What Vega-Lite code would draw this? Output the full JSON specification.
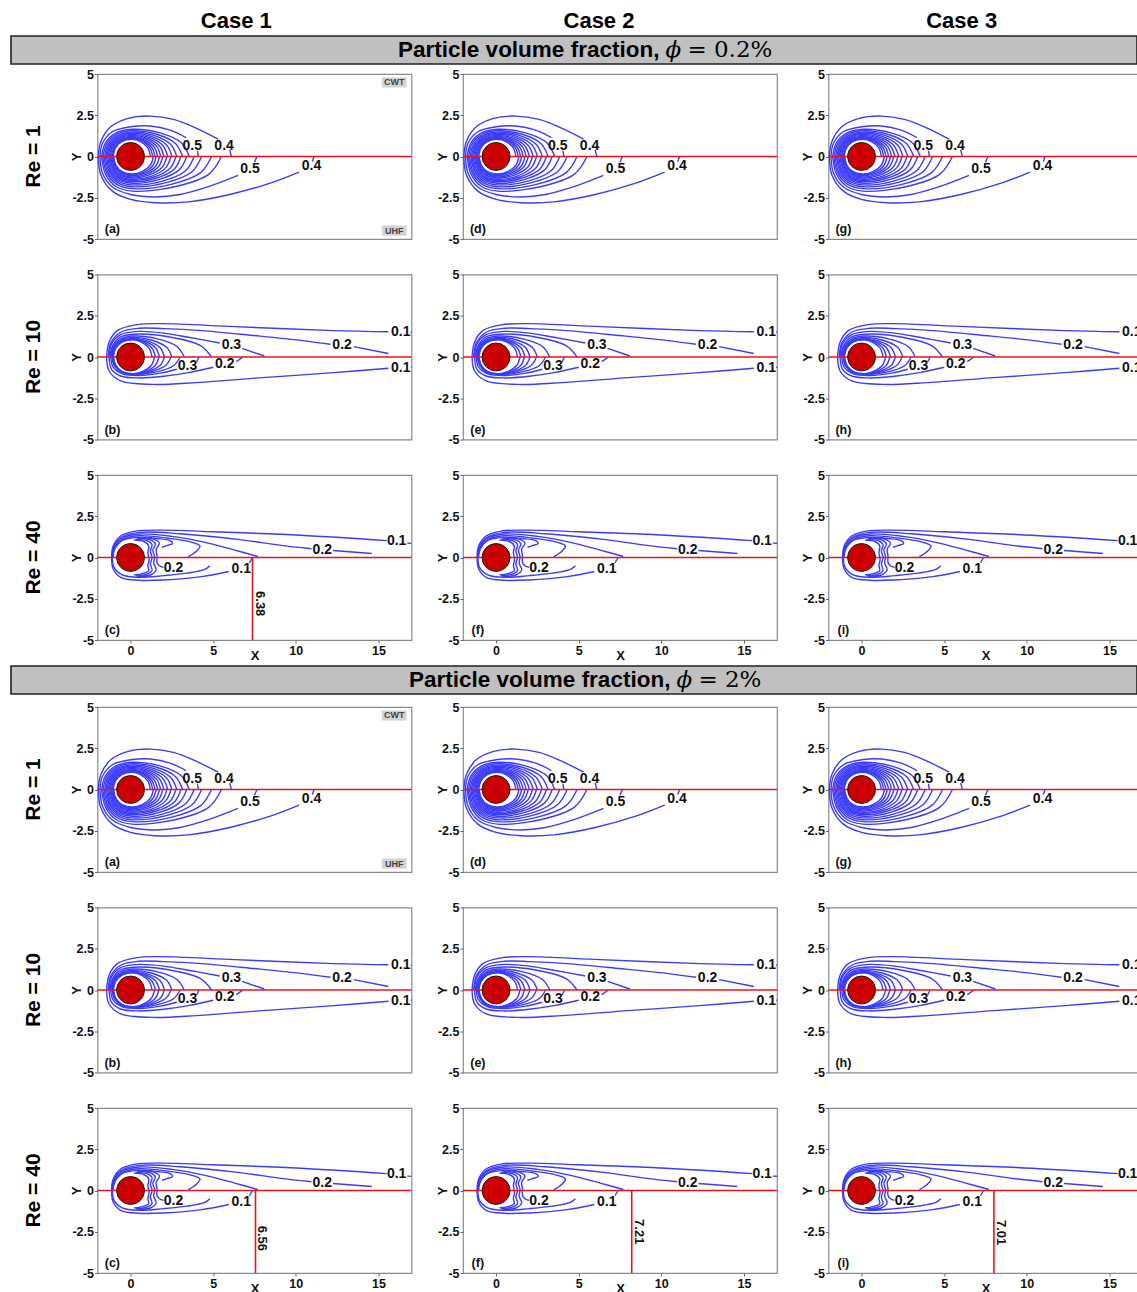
{
"$schema":"https://vega.github.io/schema/vega-lite/v6.json",
"background":"white",
"padding":{"left":10,"top":9,"right":0,"bottom":0},
"spacing":2,
"datasets":{
"c1":[
{"c":"u1a","x":-1.95,"y":0},{"c":"u1a","x":-1.8,"y":0.9},{"c":"u1a","x":-1.2,"y":1.8},{"c":"u1a","x":-0.2,"y":2.3},{"c":"u1a","x":1.2,"y":2.45},{"c":"u1a","x":2.6,"y":2.25},{"c":"u1a","x":3.9,"y":1.75},{"c":"u1a","x":5.3,"y":1.05},
{"c":"u1b","x":6.0,"y":0.4},{"c":"u1b","x":6.1,"y":0},
{"c":"u2a","x":-1.85,"y":0},{"c":"u2a","x":-1.7,"y":0.8},{"c":"u2a","x":-1.1,"y":1.5},{"c":"u2a","x":0,"y":1.8},{"c":"u2a","x":1.2,"y":1.85},{"c":"u2a","x":2.4,"y":1.6},{"c":"u2a","x":3.35,"y":1.15},
{"c":"u2b","x":4.05,"y":0.35},{"c":"u2b","x":4.1,"y":0},
{"c":"u3","x":-1.75,"y":0},{"c":"u3","x":-1.52,"y":0.83},{"c":"u3","x":-0.88,"y":1.43},{"c":"u3","x":0.1,"y":1.65},{"c":"u3","x":1.78,"y":1.43},{"c":"u3","x":3.07,"y":0.83},{"c":"u3","x":3.55,"y":0},
{"c":"u4","x":-1.66,"y":0},{"c":"u4","x":-1.44,"y":0.78},{"c":"u4","x":-0.83,"y":1.35},{"c":"u4","x":0.1,"y":1.56},{"c":"u4","x":1.58,"y":1.35},{"c":"u4","x":2.73,"y":0.78},{"c":"u4","x":3.15,"y":0},
{"c":"u5","x":-1.57,"y":0},{"c":"u5","x":-1.36,"y":0.74},{"c":"u5","x":-0.79,"y":1.28},{"c":"u5","x":0.1,"y":1.48},{"c":"u5","x":1.4,"y":1.28},{"c":"u5","x":2.42,"y":0.74},{"c":"u5","x":2.8,"y":0},
{"c":"u6","x":-1.49,"y":0},{"c":"u6","x":-1.29,"y":0.71},{"c":"u6","x":-0.75,"y":1.22},{"c":"u6","x":0.1,"y":1.41},{"c":"u6","x":1.25,"y":1.22},{"c":"u6","x":2.17,"y":0.71},{"c":"u6","x":2.5,"y":0},
{"c":"u7","x":-1.42,"y":0},{"c":"u7","x":-1.23,"y":0.67},{"c":"u7","x":-0.71,"y":1.16},{"c":"u7","x":0.1,"y":1.34},{"c":"u7","x":1.13,"y":1.16},{"c":"u7","x":1.95,"y":0.67},{"c":"u7","x":2.25,"y":0},
{"c":"u8","x":-1.35,"y":0},{"c":"u8","x":-1.17,"y":0.64},{"c":"u8","x":-0.68,"y":1.11},{"c":"u8","x":0.1,"y":1.28},{"c":"u8","x":1.01,"y":1.11},{"c":"u8","x":1.75,"y":0.64},{"c":"u8","x":2.02,"y":0},
{"c":"u9","x":-1.28,"y":0},{"c":"u9","x":-1.11,"y":0.61},{"c":"u9","x":-0.64,"y":1.06},{"c":"u9","x":0.1,"y":1.22},{"c":"u9","x":0.91,"y":1.06},{"c":"u9","x":1.58,"y":0.61},{"c":"u9","x":1.82,"y":0},
{"c":"u10","x":-1.22,"y":0},{"c":"u10","x":-1.06,"y":0.59},{"c":"u10","x":-0.61,"y":1.01},{"c":"u10","x":0.1,"y":1.17},{"c":"u10","x":0.82,"y":1.01},{"c":"u10","x":1.42,"y":0.59},{"c":"u10","x":1.64,"y":0},
{"c":"u11","x":-1.16,"y":0},{"c":"u11","x":-1.0,"y":0.56},{"c":"u11","x":-0.58,"y":0.97},{"c":"u11","x":0.1,"y":1.12},{"c":"u11","x":0.74,"y":0.97},{"c":"u11","x":1.28,"y":0.56},{"c":"u11","x":1.48,"y":0},
{"c":"u12","x":-1.1,"y":0},{"c":"u12","x":-0.95,"y":0.54},{"c":"u12","x":-0.55,"y":0.94},{"c":"u12","x":0.1,"y":1.08},{"c":"u12","x":0.67,"y":0.94},{"c":"u12","x":1.16,"y":0.54},{"c":"u12","x":1.34,"y":0},
{"c":"u13","x":-1.05,"y":0},{"c":"u13","x":-0.91,"y":0.52},{"c":"u13","x":-0.53,"y":0.9},{"c":"u13","x":0.1,"y":1.04},{"c":"u13","x":0.6,"y":0.9},{"c":"u13","x":1.04,"y":0.52},{"c":"u13","x":1.2,"y":0},
{"c":"l1a","x":-1.95,"y":0},{"c":"l1a","x":-1.8,"y":-1.1},{"c":"l1a","x":-1.1,"y":-2.1},{"c":"l1a","x":0,"y":-2.6},{"c":"l1a","x":1.5,"y":-2.8},{"c":"l1a","x":3.5,"y":-2.75},{"c":"l1a","x":6,"y":-2.3},{"c":"l1a","x":8.5,"y":-1.6},{"c":"l1a","x":10.2,"y":-0.95},
{"c":"l1b","x":11.0,"y":-0.3},{"c":"l1b","x":11.1,"y":0},
{"c":"l2a","x":-1.85,"y":0},{"c":"l2a","x":-1.7,"y":-1.0},{"c":"l2a","x":-1.1,"y":-1.85},{"c":"l2a","x":0,"y":-2.3},{"c":"l2a","x":1.5,"y":-2.45},{"c":"l2a","x":3,"y":-2.3},{"c":"l2a","x":4.8,"y":-1.8},{"c":"l2a","x":6.5,"y":-1.15},
{"c":"l2b","x":7.5,"y":-0.35},{"c":"l2b","x":7.65,"y":0},
{"c":"l3","x":-1.75,"y":0},{"c":"l3","x":-1.52,"y":-1.05},{"c":"l3","x":-0.88,"y":-1.82},{"c":"l3","x":0.1,"y":-2.1},{"c":"l3","x":2.75,"y":-1.82},{"c":"l3","x":4.76,"y":-1.05},{"c":"l3","x":5.5,"y":0},
{"c":"l4","x":-1.68,"y":0},{"c":"l4","x":-1.45,"y":-0.98},{"c":"l4","x":-0.84,"y":-1.69},{"c":"l4","x":0.1,"y":-1.95},{"c":"l4","x":2.45,"y":-1.69},{"c":"l4","x":4.24,"y":-0.98},{"c":"l4","x":4.9,"y":0},
{"c":"l5","x":-1.6,"y":0},{"c":"l5","x":-1.39,"y":-0.92},{"c":"l5","x":-0.8,"y":-1.58},{"c":"l5","x":0.1,"y":-1.83},{"c":"l5","x":2.15,"y":-1.58},{"c":"l5","x":3.72,"y":-0.92},{"c":"l5","x":4.3,"y":0},
{"c":"l6","x":-1.52,"y":0},{"c":"l6","x":-1.32,"y":-0.86},{"c":"l6","x":-0.76,"y":-1.49},{"c":"l6","x":0.1,"y":-1.72},{"c":"l6","x":1.93,"y":-1.49},{"c":"l6","x":3.33,"y":-0.86},{"c":"l6","x":3.85,"y":0},
{"c":"l7","x":-1.45,"y":0},{"c":"l7","x":-1.26,"y":-0.81},{"c":"l7","x":-0.73,"y":-1.4},{"c":"l7","x":0.1,"y":-1.62},{"c":"l7","x":1.7,"y":-1.4},{"c":"l7","x":2.94,"y":-0.81},{"c":"l7","x":3.4,"y":0},
{"c":"l8","x":-1.38,"y":0},{"c":"l8","x":-1.2,"y":-0.77},{"c":"l8","x":-0.69,"y":-1.32},{"c":"l8","x":0.1,"y":-1.53},{"c":"l8","x":1.53,"y":-1.32},{"c":"l8","x":2.64,"y":-0.77},{"c":"l8","x":3.05,"y":0},
{"c":"l9","x":-1.31,"y":0},{"c":"l9","x":-1.13,"y":-0.73},{"c":"l9","x":-0.66,"y":-1.26},{"c":"l9","x":0.1,"y":-1.45},{"c":"l9","x":1.38,"y":-1.26},{"c":"l9","x":2.38,"y":-0.73},{"c":"l9","x":2.75,"y":0},
{"c":"l10","x":-1.25,"y":0},{"c":"l10","x":-1.08,"y":-0.69},{"c":"l10","x":-0.63,"y":-1.2},{"c":"l10","x":0.1,"y":-1.38},{"c":"l10","x":1.23,"y":-1.2},{"c":"l10","x":2.12,"y":-0.69},{"c":"l10","x":2.45,"y":0},
{"c":"l11","x":-1.19,"y":0},{"c":"l11","x":-1.03,"y":-0.65},{"c":"l11","x":-0.6,"y":-1.13},{"c":"l11","x":0.1,"y":-1.3},{"c":"l11","x":1.1,"y":-1.13},{"c":"l11","x":1.91,"y":-0.65},{"c":"l11","x":2.2,"y":0},
{"c":"l12","x":-1.14,"y":0},{"c":"l12","x":-0.99,"y":-0.62},{"c":"l12","x":-0.57,"y":-1.07},{"c":"l12","x":0.1,"y":-1.24},{"c":"l12","x":0.98,"y":-1.07},{"c":"l12","x":1.69,"y":-0.62},{"c":"l12","x":1.95,"y":0},
{"c":"l13","x":-1.09,"y":0},{"c":"l13","x":-0.94,"y":-0.59},{"c":"l13","x":-0.55,"y":-1.01},{"c":"l13","x":0.1,"y":-1.17},{"c":"l13","x":0.88,"y":-1.01},{"c":"l13","x":1.52,"y":-0.59},{"c":"l13","x":1.75,"y":0},
{"c":"l14","x":-1.05,"y":0},{"c":"l14","x":-0.91,"y":-0.56},{"c":"l14","x":-0.53,"y":-0.96},{"c":"l14","x":0.1,"y":-1.11},{"c":"l14","x":0.78,"y":-0.96},{"c":"l14","x":1.34,"y":-0.56},{"c":"l14","x":1.55,"y":0},
{"c":"l15","x":-1.02,"y":0},{"c":"l15","x":-0.88,"y":-0.53},{"c":"l15","x":-0.51,"y":-0.92},{"c":"l15","x":0.1,"y":-1.06},{"c":"l15","x":0.69,"y":-0.92},{"c":"l15","x":1.2,"y":-0.53},{"c":"l15","x":1.38,"y":0}
],
"c10":[
{"c":"u1a","x":-1.45,"y":0},{"c":"u1a","x":-1.3,"y":0.9},{"c":"u1a","x":-0.8,"y":1.6},{"c":"u1a","x":0.3,"y":1.95},{"c":"u1a","x":1.9,"y":2.02},{"c":"u1a","x":6.3,"y":1.84},{"c":"u1a","x":12.3,"y":1.6},{"c":"u1a","x":15.6,"y":1.53},
{"c":"u1b","x":16.95,"y":1.5},{"c":"u1b","x":17.5,"y":1.49},
{"c":"u2a","x":-1.35,"y":0},{"c":"u2a","x":-1.2,"y":0.85},{"c":"u2a","x":-0.6,"y":1.5},{"c":"u2a","x":0.5,"y":1.74},{"c":"u2a","x":2,"y":1.72},{"c":"u2a","x":4.3,"y":1.6},{"c":"u2a","x":7.5,"y":1.3},{"c":"u2a","x":10.3,"y":1.01},{"c":"u2a","x":12.1,"y":0.77},
{"c":"u2b","x":13.5,"y":0.63},{"c":"u2b","x":15.6,"y":0.21},
{"c":"u3a","x":-1.3,"y":0},{"c":"u3a","x":-1.15,"y":0.8},{"c":"u3a","x":-0.6,"y":1.35},{"c":"u3a","x":0.5,"y":1.55},{"c":"u3a","x":2,"y":1.45},{"c":"u3a","x":3.5,"y":1.2},{"c":"u3a","x":5.4,"y":0.85},
{"c":"u3b","x":6.75,"y":0.52},{"c":"u3b","x":8.1,"y":0.06},
{"c":"u4","x":-1.25,"y":0},{"c":"u4","x":-1.08,"y":0.69},{"c":"u4","x":-0.63,"y":1.2},{"c":"u4","x":0.2,"y":1.38},{"c":"u4","x":2.45,"y":1.2},{"c":"u4","x":4.24,"y":0.69},{"c":"u4","x":4.9,"y":0},
{"c":"u5","x":-1.2,"y":0},{"c":"u5","x":-1.04,"y":0.64},{"c":"u5","x":-0.6,"y":1.1},{"c":"u5","x":0.2,"y":1.27},{"c":"u5","x":1.63,"y":1.1},{"c":"u5","x":2.81,"y":0.64},{"c":"u5","x":3.25,"y":0},
{"c":"u6","x":-1.16,"y":0},{"c":"u6","x":-1.0,"y":0.6},{"c":"u6","x":-0.58,"y":1.03},{"c":"u6","x":0.2,"y":1.19},{"c":"u6","x":1.25,"y":1.03},{"c":"u6","x":2.17,"y":0.6},{"c":"u6","x":2.5,"y":0},
{"c":"u7","x":-1.12,"y":0},{"c":"u7","x":-0.97,"y":0.57},{"c":"u7","x":-0.56,"y":0.98},{"c":"u7","x":0.2,"y":1.13},{"c":"u7","x":1.03,"y":0.98},{"c":"u7","x":1.78,"y":0.57},{"c":"u7","x":2.05,"y":0},
{"c":"u8","x":-1.09,"y":0},{"c":"u8","x":-0.94,"y":0.55},{"c":"u8","x":-0.55,"y":0.94},{"c":"u8","x":0.2,"y":1.09},{"c":"u8","x":0.88,"y":0.94},{"c":"u8","x":1.52,"y":0.55},{"c":"u8","x":1.75,"y":0},
{"c":"u9","x":-1.06,"y":0},{"c":"u9","x":-0.92,"y":0.53},{"c":"u9","x":-0.53,"y":0.92},{"c":"u9","x":0.2,"y":1.06},{"c":"u9","x":0.75,"y":0.92},{"c":"u9","x":1.3,"y":0.53},{"c":"u9","x":1.5,"y":0},
{"c":"u10","x":-1.04,"y":0},{"c":"u10","x":-0.9,"y":0.52},{"c":"u10","x":-0.52,"y":0.9},{"c":"u10","x":0.2,"y":1.04},{"c":"u10","x":0.65,"y":0.9},{"c":"u10","x":1.13,"y":0.52},{"c":"u10","x":1.3,"y":0},
{"c":"l1a","x":-1.45,"y":0},{"c":"l1a","x":-1.3,"y":-0.85},{"c":"l1a","x":-0.6,"y":-1.45},{"c":"l1a","x":1.3,"y":-1.66},{"c":"l1a","x":4,"y":-1.55},{"c":"l1a","x":8,"y":-1.25},{"c":"l1a","x":12.3,"y":-0.95},{"c":"l1a","x":15.6,"y":-0.68},
{"c":"l1b","x":16.95,"y":-0.62},{"c":"l1b","x":17.5,"y":-0.6},
{"c":"l2a","x":-1.3,"y":0},{"c":"l2a","x":-1.15,"y":-0.75},{"c":"l2a","x":-0.6,"y":-1.15},{"c":"l2a","x":0.5,"y":-1.27},{"c":"l2a","x":2,"y":-1.17},{"c":"l2a","x":3.5,"y":-0.95},{"c":"l2a","x":5.0,"y":-0.62},
{"c":"l2b","x":6.4,"y":-0.28},{"c":"l2b","x":6.8,"y":0},
{"c":"l3a","x":-1.2,"y":0},{"c":"l3a","x":-1.06,"y":-0.6},{"c":"l3a","x":-0.5,"y":-1.02},{"c":"l3a","x":0.5,"y":-1.12},{"c":"l3a","x":1.8,"y":-0.98},{"c":"l3a","x":2.8,"y":-0.74},
{"c":"l3b","x":4.0,"y":-0.3},{"c":"l3b","x":4.15,"y":0},
{"c":"l4","x":-1.13,"y":0},{"c":"l4","x":-0.98,"y":-0.53},{"c":"l4","x":-0.57,"y":-0.92},{"c":"l4","x":0.3,"y":-1.06},{"c":"l4","x":1.5,"y":-0.92},{"c":"l4","x":2.6,"y":-0.53},{"c":"l4","x":3.0,"y":0},
{"c":"l5","x":-1.1,"y":0},{"c":"l5","x":-0.95,"y":-0.52},{"c":"l5","x":-0.55,"y":-0.9},{"c":"l5","x":0.3,"y":-1.04},{"c":"l5","x":1.23,"y":-0.9},{"c":"l5","x":2.12,"y":-0.52},{"c":"l5","x":2.45,"y":0},
{"c":"l6","x":-1.07,"y":0},{"c":"l6","x":-0.93,"y":-0.52},{"c":"l6","x":-0.54,"y":-0.89},{"c":"l6","x":0.3,"y":-1.03},{"c":"l6","x":1.03,"y":-0.89},{"c":"l6","x":1.78,"y":-0.52},{"c":"l6","x":2.05,"y":0},
{"c":"l7","x":-1.05,"y":0},{"c":"l7","x":-0.91,"y":-0.51},{"c":"l7","x":-0.53,"y":-0.88},{"c":"l7","x":0.25,"y":-1.02},{"c":"l7","x":0.86,"y":-0.88},{"c":"l7","x":1.49,"y":-0.51},{"c":"l7","x":1.72,"y":0},
{"c":"l8","x":-1.03,"y":0},{"c":"l8","x":-0.89,"y":-0.5},{"c":"l8","x":-0.52,"y":-0.87},{"c":"l8","x":0.2,"y":-1.01},{"c":"l8","x":0.73,"y":-0.87},{"c":"l8","x":1.26,"y":-0.5},{"c":"l8","x":1.45,"y":0}
],
"c40":[
{"c":"u1a","x":-1.15,"y":0},{"c":"u1a","x":-1.05,"y":0.7},{"c":"u1a","x":-0.6,"y":1.3},{"c":"u1a","x":0.3,"y":1.6},{"c":"u1a","x":1.9,"y":1.66},{"c":"u1a","x":5,"y":1.56},{"c":"u1a","x":10.3,"y":1.35},{"c":"u1a","x":15.5,"y":1.02},
{"c":"u1b","x":16.75,"y":0.87},{"c":"u1b","x":17.5,"y":0.84},
{"c":"u2a","x":-1.12,"y":0},{"c":"u2a","x":-1.02,"y":0.65},{"c":"u2a","x":-0.55,"y":1.22},{"c":"u2a","x":0.5,"y":1.52},{"c":"u2a","x":3,"y":1.44},{"c":"u2a","x":6.5,"y":1.1},{"c":"u2a","x":9,"y":0.75},{"c":"u2a","x":10.95,"y":0.53},
{"c":"u2b","x":12.25,"y":0.42},{"c":"u2b","x":14.6,"y":0.24},
{"c":"u3","x":-1.1,"y":0},{"c":"u3","x":-1.0,"y":0.6},{"c":"u3","x":-0.55,"y":1.15},{"c":"u3","x":0.5,"y":1.42},{"c":"u3","x":2.5,"y":1.28},{"c":"u3","x":4.5,"y":0.92},{"c":"u3","x":6.3,"y":0.45},{"c":"u3","x":7.7,"y":0.06},
{"c":"u4","x":-1.08,"y":0},{"c":"u4","x":-0.98,"y":0.55},{"c":"u4","x":-0.5,"y":1.08},{"c":"u4","x":0.5,"y":1.32},{"c":"u4","x":2.2,"y":1.18},{"c":"u4","x":3.6,"y":0.95},{"c":"u4","x":4.2,"y":0.7},{"c":"u4","x":4.0,"y":0.4},{"c":"u4","x":3.5,"y":0.05},
{"c":"u5","x":-1.06,"y":0},{"c":"u5","x":-0.96,"y":0.5},{"c":"u5","x":-0.5,"y":1.03},{"c":"u5","x":0.5,"y":1.22},{"c":"u5","x":1.6,"y":1.15},{"c":"u5","x":2.4,"y":1.02},{"c":"u5","x":2.55,"y":0.85},{"c":"u5","x":2.2,"y":0.72},{"c":"u5","x":1.9,"y":0.62},
{"c":"v1","x":0.2,"y":1.05},{"c":"v1","x":0.8,"y":0.97},{"c":"v1","x":1.1,"y":0.72},{"c":"v1","x":1.05,"y":0.3},{"c":"v1","x":1.12,"y":-0.1},{"c":"v1","x":1.05,"y":-0.5},{"c":"v1","x":1.1,"y":-0.8},{"c":"v1","x":0.7,"y":-0.98},{"c":"v1","x":0.2,"y":-1.05},
{"c":"v2","x":0.3,"y":1.1},{"c":"v2","x":1.0,"y":1.02},{"c":"v2","x":1.3,"y":0.78},{"c":"v2","x":1.2,"y":0.4},{"c":"v2","x":1.3,"y":0},{"c":"v2","x":1.2,"y":-0.4},{"c":"v2","x":1.3,"y":-0.8},{"c":"v2","x":0.9,"y":-1.03},{"c":"v2","x":0.3,"y":-1.1},
{"c":"v3","x":0.4,"y":1.15},{"c":"v3","x":1.2,"y":1.07},{"c":"v3","x":1.5,"y":0.82},{"c":"v3","x":1.35,"y":0.45},{"c":"v3","x":1.45,"y":0.05},{"c":"v3","x":1.4,"y":-0.35},{"c":"v3","x":1.55,"y":-0.75},{"c":"v3","x":1.2,"y":-1.06},{"c":"v3","x":0.4,"y":-1.15},
{"c":"v4","x":0.5,"y":1.19},{"c":"v4","x":1.4,"y":1.11},{"c":"v4","x":1.75,"y":0.87},{"c":"v4","x":1.55,"y":0.5},{"c":"v4","x":1.6,"y":0.1},{"c":"v4","x":1.6,"y":-0.3},{"c":"v4","x":1.75,"y":-0.5},{"c":"v4","x":2.0,"y":-0.6},
{"c":"l1a","x":-1.15,"y":0},{"c":"l1a","x":-1.05,"y":-0.7},{"c":"l1a","x":-0.6,"y":-1.2},{"c":"l1a","x":0.5,"y":-1.38},{"c":"l1a","x":2,"y":-1.36},{"c":"l1a","x":4.3,"y":-1.16},{"c":"l1a","x":5.95,"y":-0.85},
{"c":"l1b","x":7.2,"y":-0.32},{"c":"l1b","x":7.38,"y":0},
{"c":"l2","x":-1.1,"y":0},{"c":"l2","x":-1.0,"y":-0.6},{"c":"l2","x":-0.5,"y":-1.05},{"c":"l2","x":0.5,"y":-1.2},{"c":"l2","x":2.0,"y":-1.1},{"c":"l2","x":3.4,"y":-0.95},{"c":"l2","x":4.5,"y":-0.72},{"c":"l2","x":4.8,"y":-0.5}
],
"l1":[{"x":3.73,"y":0.66,"t":"0.5"},{"x":5.66,"y":0.66,"t":"0.4"},{"x":7.23,"y":-0.75,"t":"0.5"},{"x":10.95,"y":-0.6,"t":"0.4"}],
"l10":[{"x":16.35,"y":1.5,"t":"0.1"},{"x":12.8,"y":0.7,"t":"0.2"},{"x":6.1,"y":0.72,"t":"0.3"},{"x":3.45,"y":-0.52,"t":"0.3"},{"x":5.7,"y":-0.45,"t":"0.2"},{"x":16.35,"y":-0.68,"t":"0.1"}],
"l40":[{"x":16.1,"y":1.0,"t":"0.1"},{"x":11.6,"y":0.47,"t":"0.2"},{"x":2.6,"y":-0.62,"t":"0.2"},{"x":6.7,"y":-0.7,"t":"0.1"}]
},
"vconcat":[
{"spacing":2,"vconcat":[
{"width":1126,"height":28,"view":{"stroke":null},"data":{"values":[{}]},"layer":[
 {"mark":{"type":"rect","fill":"#c0c0c0","stroke":"#222","strokeWidth":1.6},"encoding":{}},
 {"mark":{"type":"text","text":"Particle volume fraction,","align":"right","baseline":"middle","fontSize":22.5,"color":"#000"},"encoding":{"x":{"datum":2.168,"type":"quantitative","scale":{"domain":[0.38017,3.48485],"nice":false,"zero":false},"axis":{"orient":"top","values":[1,2,3],"labelExpr":"'Case ' + datum.value","labelFontSize":22,"labelColor":"#000","ticks":false,"labelPadding":4,"title":null}}}},
 {"mark":{"type":"text","text":"ϕ","align":"left","baseline":"middle","font":"DejaVu Serif","fontStyle":"italic","fontWeight":"normal","fontSize":23,"color":"#000"},"encoding":{"x":{"datum":2.1846}}},
 {"mark":{"type":"text","text":"= 0.2%","align":"left","baseline":"middle","font":"DejaVu Serif","fontWeight":"normal","fontSize":23,"color":"#000"},"encoding":{"x":{"datum":2.2452}}}
]},
{"spacing":20.5,"vconcat":[
 {"spacing":21.5,"hconcat":[
  {"width":37,"height":165,"view":{"stroke":null},"data":{"values":[{}]},"mark":{"type":"text","text":"Re = 1","angle":270,"fontSize":21,"dy":4.5,"baseline":"middle","align":"center","color":"#000"},"encoding":{}},
  {"width":314,"height":165,"data":{"values":[{}]},"layer":[{"data":{"name":"c1"},"mark":{"type":"line","clip":true},"encoding":{"x":{"field":"x","type":"quantitative","scale":{"domain":[-2,17],"nice":false,"zero":false},"axis":null},"y":{"field":"y","type":"quantitative","scale":{"domain":[-5,5],"nice":false,"zero":false},"axis":{"values":[-5,-2.5,0,2.5,5],"labelExpr":"toString(datum.value)","title":"Y","titleX":-21,"titleY":82.5,"titleAngle":270,"titleBaseline":"middle","titleAlign":"center"}},"detail":{"field":"c"},"order":{"value":null}}},{"mark":"rule","encoding":{"y":{"datum":0}}},{"mark":{"type":"point","filled":true,"fill":"#cc0000","stroke":"#1a1a1a","strokeWidth":1,"size":780,"opacity":1},"encoding":{"x":{"datum":0},"y":{"datum":0}}},{"data":{"name":"l1"},"mark":{"type":"text","fontSize":14},"encoding":{"x":{"field":"x","type":"quantitative"},"y":{"field":"y","type":"quantitative"},"text":{"field":"t"}}},{"mark":{"type":"text","text":"(a)","fontSize":12.5},"encoding":{"x":{"datum":-1.1},"y":{"datum":-4.4}}},
   {"data":{"values":[{"x":15.2,"x2":16.7,"y":4.18,"y2":4.8,"xm":15.95,"ym":4.49,"t":"CWT"},{"x":15.2,"x2":16.7,"y":-4.8,"y2":-4.18,"xm":15.95,"ym":-4.49,"t":"UHF"}]},"layer":[{"mark":{"type":"rect","fill":"#d4d4d4"},"encoding":{"x":{"field":"x","type":"quantitative"},"x2":{"field":"x2"},"y":{"field":"y","type":"quantitative"},"y2":{"field":"y2"}}},{"mark":{"type":"text","fontSize":9,"color":"#444"},"encoding":{"x":{"field":"xm","type":"quantitative"},"y":{"field":"ym","type":"quantitative"},"text":{"field":"t"}}}]}]},
  {"width":314,"height":165,"data":{"values":[{}]},"layer":[{"data":{"name":"c1"},"mark":{"type":"line","clip":true},"encoding":{"x":{"field":"x","type":"quantitative","scale":{"domain":[-2,17],"nice":false,"zero":false},"axis":null},"y":{"field":"y","type":"quantitative","scale":{"domain":[-5,5],"nice":false,"zero":false},"axis":{"values":[-5,-2.5,0,2.5,5],"labelExpr":"toString(datum.value)","title":"Y","titleX":-21,"titleY":82.5,"titleAngle":270,"titleBaseline":"middle","titleAlign":"center"}},"detail":{"field":"c"},"order":{"value":null}}},{"mark":"rule","encoding":{"y":{"datum":0}}},{"mark":{"type":"point","filled":true,"fill":"#cc0000","stroke":"#1a1a1a","strokeWidth":1,"size":780,"opacity":1},"encoding":{"x":{"datum":0},"y":{"datum":0}}},{"data":{"name":"l1"},"mark":{"type":"text","fontSize":14},"encoding":{"x":{"field":"x","type":"quantitative"},"y":{"field":"y","type":"quantitative"},"text":{"field":"t"}}},{"mark":{"type":"text","text":"(d)","fontSize":12.5},"encoding":{"x":{"datum":-1.1},"y":{"datum":-4.4}}}]},
  {"width":314,"height":165,"data":{"values":[{}]},"layer":[{"data":{"name":"c1"},"mark":{"type":"line","clip":true},"encoding":{"x":{"field":"x","type":"quantitative","scale":{"domain":[-2,17],"nice":false,"zero":false},"axis":null},"y":{"field":"y","type":"quantitative","scale":{"domain":[-5,5],"nice":false,"zero":false},"axis":{"values":[-5,-2.5,0,2.5,5],"labelExpr":"toString(datum.value)","title":"Y","titleX":-21,"titleY":82.5,"titleAngle":270,"titleBaseline":"middle","titleAlign":"center"}},"detail":{"field":"c"},"order":{"value":null}}},{"mark":"rule","encoding":{"y":{"datum":0}}},{"mark":{"type":"point","filled":true,"fill":"#cc0000","stroke":"#1a1a1a","strokeWidth":1,"size":780,"opacity":1},"encoding":{"x":{"datum":0},"y":{"datum":0}}},{"data":{"name":"l1"},"mark":{"type":"text","fontSize":14},"encoding":{"x":{"field":"x","type":"quantitative"},"y":{"field":"y","type":"quantitative"},"text":{"field":"t"}}},{"mark":{"type":"text","text":"(g)","fontSize":12.5},"encoding":{"x":{"datum":-1.1},"y":{"datum":-4.4}}}]}
 ]},
 {"spacing":21.5,"hconcat":[
  {"width":37,"height":165,"view":{"stroke":null},"data":{"values":[{}]},"mark":{"type":"text","text":"Re = 10","angle":270,"fontSize":21,"dy":4.5,"baseline":"middle","align":"center","color":"#000"},"encoding":{}},
  {"width":314,"height":165,"data":{"values":[{}]},"layer":[{"data":{"name":"c10"},"mark":{"type":"line","clip":true},"encoding":{"x":{"field":"x","type":"quantitative","scale":{"domain":[-2,17],"nice":false,"zero":false},"axis":null},"y":{"field":"y","type":"quantitative","scale":{"domain":[-5,5],"nice":false,"zero":false},"axis":{"values":[-5,-2.5,0,2.5,5],"labelExpr":"toString(datum.value)","title":"Y","titleX":-21,"titleY":82.5,"titleAngle":270,"titleBaseline":"middle","titleAlign":"center"}},"detail":{"field":"c"},"order":{"value":null}}},{"mark":"rule","encoding":{"y":{"datum":0}}},{"mark":{"type":"point","filled":true,"fill":"#cc0000","stroke":"#1a1a1a","strokeWidth":1,"size":780,"opacity":1},"encoding":{"x":{"datum":0},"y":{"datum":0}}},{"data":{"name":"l10"},"mark":{"type":"text","fontSize":14},"encoding":{"x":{"field":"x","type":"quantitative"},"y":{"field":"y","type":"quantitative"},"text":{"field":"t"}}},{"mark":{"type":"text","text":"(b)","fontSize":12.5},"encoding":{"x":{"datum":-1.1},"y":{"datum":-4.4}}}]},
  {"width":314,"height":165,"data":{"values":[{}]},"layer":[{"data":{"name":"c10"},"mark":{"type":"line","clip":true},"encoding":{"x":{"field":"x","type":"quantitative","scale":{"domain":[-2,17],"nice":false,"zero":false},"axis":null},"y":{"field":"y","type":"quantitative","scale":{"domain":[-5,5],"nice":false,"zero":false},"axis":{"values":[-5,-2.5,0,2.5,5],"labelExpr":"toString(datum.value)","title":"Y","titleX":-21,"titleY":82.5,"titleAngle":270,"titleBaseline":"middle","titleAlign":"center"}},"detail":{"field":"c"},"order":{"value":null}}},{"mark":"rule","encoding":{"y":{"datum":0}}},{"mark":{"type":"point","filled":true,"fill":"#cc0000","stroke":"#1a1a1a","strokeWidth":1,"size":780,"opacity":1},"encoding":{"x":{"datum":0},"y":{"datum":0}}},{"data":{"name":"l10"},"mark":{"type":"text","fontSize":14},"encoding":{"x":{"field":"x","type":"quantitative"},"y":{"field":"y","type":"quantitative"},"text":{"field":"t"}}},{"mark":{"type":"text","text":"(e)","fontSize":12.5},"encoding":{"x":{"datum":-1.1},"y":{"datum":-4.4}}}]},
  {"width":314,"height":165,"data":{"values":[{}]},"layer":[{"data":{"name":"c10"},"mark":{"type":"line","clip":true},"encoding":{"x":{"field":"x","type":"quantitative","scale":{"domain":[-2,17],"nice":false,"zero":false},"axis":null},"y":{"field":"y","type":"quantitative","scale":{"domain":[-5,5],"nice":false,"zero":false},"axis":{"values":[-5,-2.5,0,2.5,5],"labelExpr":"toString(datum.value)","title":"Y","titleX":-21,"titleY":82.5,"titleAngle":270,"titleBaseline":"middle","titleAlign":"center"}},"detail":{"field":"c"},"order":{"value":null}}},{"mark":"rule","encoding":{"y":{"datum":0}}},{"mark":{"type":"point","filled":true,"fill":"#cc0000","stroke":"#1a1a1a","strokeWidth":1,"size":780,"opacity":1},"encoding":{"x":{"datum":0},"y":{"datum":0}}},{"data":{"name":"l10"},"mark":{"type":"text","fontSize":14},"encoding":{"x":{"field":"x","type":"quantitative"},"y":{"field":"y","type":"quantitative"},"text":{"field":"t"}}},{"mark":{"type":"text","text":"(h)","fontSize":12.5},"encoding":{"x":{"datum":-1.1},"y":{"datum":-4.4}}}]}
 ]},
 {"spacing":21.5,"hconcat":[
  {"width":37,"height":165,"view":{"stroke":null},"data":{"values":[{}]},"mark":{"type":"text","text":"Re = 40","angle":270,"fontSize":21,"dy":4.5,"baseline":"middle","align":"center","color":"#000"},"encoding":{}},
  {"width":314,"height":165,"data":{"values":[{}]},"layer":[{"data":{"name":"c40"},"mark":{"type":"line","clip":true},"encoding":{"x":{"field":"x","type":"quantitative","scale":{"domain":[-2,17],"nice":false,"zero":false},"axis":{"values":[0,5,10,15],"title":"X","titleY":9,"titleBaseline":"top"}},"y":{"field":"y","type":"quantitative","scale":{"domain":[-5,5],"nice":false,"zero":false},"axis":{"values":[-5,-2.5,0,2.5,5],"labelExpr":"toString(datum.value)","title":"Y","titleX":-21,"titleY":82.5,"titleAngle":270,"titleBaseline":"middle","titleAlign":"center"}},"detail":{"field":"c"},"order":{"value":null}}},{"mark":"rule","encoding":{"y":{"datum":0}}},{"mark":{"type":"point","filled":true,"fill":"#cc0000","stroke":"#1a1a1a","strokeWidth":1,"size":780,"opacity":1},"encoding":{"x":{"datum":0},"y":{"datum":0}}},{"data":{"name":"l40"},"mark":{"type":"text","fontSize":14},"encoding":{"x":{"field":"x","type":"quantitative"},"y":{"field":"y","type":"quantitative"},"text":{"field":"t"}}},{"mark":{"type":"text","text":"(c)","fontSize":12.5},"encoding":{"x":{"datum":-1.1},"y":{"datum":-4.4}}},
   {"data":{"values":[{"x":7.38,"y":-2.8,"t":"6.38"}]},"layer":[{"mark":"rule","encoding":{"x":{"field":"x","type":"quantitative"},"y":{"datum":0},"y2":{"datum":-5}}},{"mark":{"type":"text","angle":90,"baseline":"alphabetic","align":"center","dy":-3,"fontSize":13},"encoding":{"x":{"field":"x","type":"quantitative"},"y":{"field":"y","type":"quantitative"},"text":{"field":"t"}}}]}]},
  {"width":314,"height":165,"data":{"values":[{}]},"layer":[{"data":{"name":"c40"},"mark":{"type":"line","clip":true},"encoding":{"x":{"field":"x","type":"quantitative","scale":{"domain":[-2,17],"nice":false,"zero":false},"axis":{"values":[0,5,10,15],"title":"X","titleY":9,"titleBaseline":"top"}},"y":{"field":"y","type":"quantitative","scale":{"domain":[-5,5],"nice":false,"zero":false},"axis":{"values":[-5,-2.5,0,2.5,5],"labelExpr":"toString(datum.value)","title":"Y","titleX":-21,"titleY":82.5,"titleAngle":270,"titleBaseline":"middle","titleAlign":"center"}},"detail":{"field":"c"},"order":{"value":null}}},{"mark":"rule","encoding":{"y":{"datum":0}}},{"mark":{"type":"point","filled":true,"fill":"#cc0000","stroke":"#1a1a1a","strokeWidth":1,"size":780,"opacity":1},"encoding":{"x":{"datum":0},"y":{"datum":0}}},{"data":{"name":"l40"},"mark":{"type":"text","fontSize":14},"encoding":{"x":{"field":"x","type":"quantitative"},"y":{"field":"y","type":"quantitative"},"text":{"field":"t"}}},{"mark":{"type":"text","text":"(f)","fontSize":12.5},"encoding":{"x":{"datum":-1.1},"y":{"datum":-4.4}}}]},
  {"width":314,"height":165,"data":{"values":[{}]},"layer":[{"data":{"name":"c40"},"mark":{"type":"line","clip":true},"encoding":{"x":{"field":"x","type":"quantitative","scale":{"domain":[-2,17],"nice":false,"zero":false},"axis":{"values":[0,5,10,15],"title":"X","titleY":9,"titleBaseline":"top"}},"y":{"field":"y","type":"quantitative","scale":{"domain":[-5,5],"nice":false,"zero":false},"axis":{"values":[-5,-2.5,0,2.5,5],"labelExpr":"toString(datum.value)","title":"Y","titleX":-21,"titleY":82.5,"titleAngle":270,"titleBaseline":"middle","titleAlign":"center"}},"detail":{"field":"c"},"order":{"value":null}}},{"mark":"rule","encoding":{"y":{"datum":0}}},{"mark":{"type":"point","filled":true,"fill":"#cc0000","stroke":"#1a1a1a","strokeWidth":1,"size":780,"opacity":1},"encoding":{"x":{"datum":0},"y":{"datum":0}}},{"data":{"name":"l40"},"mark":{"type":"text","fontSize":14},"encoding":{"x":{"field":"x","type":"quantitative"},"y":{"field":"y","type":"quantitative"},"text":{"field":"t"}}},{"mark":{"type":"text","text":"(i)","fontSize":12.5},"encoding":{"x":{"datum":-1.1},"y":{"datum":-4.4}}}]}
 ]}
]}
]},
{"spacing":5,"vconcat":[
{"width":1126,"height":28,"view":{"stroke":null},"data":{"values":[{}]},"layer":[
 {"mark":{"type":"rect","fill":"#c0c0c0","stroke":"#222","strokeWidth":1.6},"encoding":{}},
 {"mark":{"type":"text","text":"Particle volume fraction,","align":"right","baseline":"middle","fontSize":22.5,"color":"#000"},"encoding":{"x":{"datum":2.1983,"type":"quantitative","scale":{"domain":[0.38017,3.48485],"nice":false,"zero":false},"axis":null}}},
 {"mark":{"type":"text","text":"ϕ","align":"left","baseline":"middle","font":"DejaVu Serif","fontStyle":"italic","fontWeight":"normal","fontSize":23,"color":"#000"},"encoding":{"x":{"datum":2.2149}}},
 {"mark":{"type":"text","text":"= 2%","align":"left","baseline":"middle","font":"DejaVu Serif","fontWeight":"normal","fontSize":23,"color":"#000"},"encoding":{"x":{"datum":2.2755}}}
]},
{"spacing":20.5,"vconcat":[
 {"spacing":21.5,"hconcat":[
  {"width":37,"height":165,"view":{"stroke":null},"data":{"values":[{}]},"mark":{"type":"text","text":"Re = 1","angle":270,"fontSize":21,"dy":4.5,"baseline":"middle","align":"center","color":"#000"},"encoding":{}},
  {"width":314,"height":165,"data":{"values":[{}]},"layer":[{"data":{"name":"c1"},"mark":{"type":"line","clip":true},"encoding":{"x":{"field":"x","type":"quantitative","scale":{"domain":[-2,17],"nice":false,"zero":false},"axis":null},"y":{"field":"y","type":"quantitative","scale":{"domain":[-5,5],"nice":false,"zero":false},"axis":{"values":[-5,-2.5,0,2.5,5],"labelExpr":"toString(datum.value)","title":"Y","titleX":-21,"titleY":82.5,"titleAngle":270,"titleBaseline":"middle","titleAlign":"center"}},"detail":{"field":"c"},"order":{"value":null}}},{"mark":"rule","encoding":{"y":{"datum":0}}},{"mark":{"type":"point","filled":true,"fill":"#cc0000","stroke":"#1a1a1a","strokeWidth":1,"size":780,"opacity":1},"encoding":{"x":{"datum":0},"y":{"datum":0}}},{"data":{"name":"l1"},"mark":{"type":"text","fontSize":14},"encoding":{"x":{"field":"x","type":"quantitative"},"y":{"field":"y","type":"quantitative"},"text":{"field":"t"}}},{"mark":{"type":"text","text":"(a)","fontSize":12.5},"encoding":{"x":{"datum":-1.1},"y":{"datum":-4.4}}},
   {"data":{"values":[{"x":15.2,"x2":16.7,"y":4.18,"y2":4.8,"xm":15.95,"ym":4.49,"t":"CWT"},{"x":15.2,"x2":16.7,"y":-4.8,"y2":-4.18,"xm":15.95,"ym":-4.49,"t":"UHF"}]},"layer":[{"mark":{"type":"rect","fill":"#d4d4d4"},"encoding":{"x":{"field":"x","type":"quantitative"},"x2":{"field":"x2"},"y":{"field":"y","type":"quantitative"},"y2":{"field":"y2"}}},{"mark":{"type":"text","fontSize":9,"color":"#444"},"encoding":{"x":{"field":"xm","type":"quantitative"},"y":{"field":"ym","type":"quantitative"},"text":{"field":"t"}}}]}]},
  {"width":314,"height":165,"data":{"values":[{}]},"layer":[{"data":{"name":"c1"},"mark":{"type":"line","clip":true},"encoding":{"x":{"field":"x","type":"quantitative","scale":{"domain":[-2,17],"nice":false,"zero":false},"axis":null},"y":{"field":"y","type":"quantitative","scale":{"domain":[-5,5],"nice":false,"zero":false},"axis":{"values":[-5,-2.5,0,2.5,5],"labelExpr":"toString(datum.value)","title":"Y","titleX":-21,"titleY":82.5,"titleAngle":270,"titleBaseline":"middle","titleAlign":"center"}},"detail":{"field":"c"},"order":{"value":null}}},{"mark":"rule","encoding":{"y":{"datum":0}}},{"mark":{"type":"point","filled":true,"fill":"#cc0000","stroke":"#1a1a1a","strokeWidth":1,"size":780,"opacity":1},"encoding":{"x":{"datum":0},"y":{"datum":0}}},{"data":{"name":"l1"},"mark":{"type":"text","fontSize":14},"encoding":{"x":{"field":"x","type":"quantitative"},"y":{"field":"y","type":"quantitative"},"text":{"field":"t"}}},{"mark":{"type":"text","text":"(d)","fontSize":12.5},"encoding":{"x":{"datum":-1.1},"y":{"datum":-4.4}}}]},
  {"width":314,"height":165,"data":{"values":[{}]},"layer":[{"data":{"name":"c1"},"mark":{"type":"line","clip":true},"encoding":{"x":{"field":"x","type":"quantitative","scale":{"domain":[-2,17],"nice":false,"zero":false},"axis":null},"y":{"field":"y","type":"quantitative","scale":{"domain":[-5,5],"nice":false,"zero":false},"axis":{"values":[-5,-2.5,0,2.5,5],"labelExpr":"toString(datum.value)","title":"Y","titleX":-21,"titleY":82.5,"titleAngle":270,"titleBaseline":"middle","titleAlign":"center"}},"detail":{"field":"c"},"order":{"value":null}}},{"mark":"rule","encoding":{"y":{"datum":0}}},{"mark":{"type":"point","filled":true,"fill":"#cc0000","stroke":"#1a1a1a","strokeWidth":1,"size":780,"opacity":1},"encoding":{"x":{"datum":0},"y":{"datum":0}}},{"data":{"name":"l1"},"mark":{"type":"text","fontSize":14},"encoding":{"x":{"field":"x","type":"quantitative"},"y":{"field":"y","type":"quantitative"},"text":{"field":"t"}}},{"mark":{"type":"text","text":"(g)","fontSize":12.5},"encoding":{"x":{"datum":-1.1},"y":{"datum":-4.4}}}]}
 ]},
 {"spacing":21.5,"hconcat":[
  {"width":37,"height":165,"view":{"stroke":null},"data":{"values":[{}]},"mark":{"type":"text","text":"Re = 10","angle":270,"fontSize":21,"dy":4.5,"baseline":"middle","align":"center","color":"#000"},"encoding":{}},
  {"width":314,"height":165,"data":{"values":[{}]},"layer":[{"data":{"name":"c10"},"mark":{"type":"line","clip":true},"encoding":{"x":{"field":"x","type":"quantitative","scale":{"domain":[-2,17],"nice":false,"zero":false},"axis":null},"y":{"field":"y","type":"quantitative","scale":{"domain":[-5,5],"nice":false,"zero":false},"axis":{"values":[-5,-2.5,0,2.5,5],"labelExpr":"toString(datum.value)","title":"Y","titleX":-21,"titleY":82.5,"titleAngle":270,"titleBaseline":"middle","titleAlign":"center"}},"detail":{"field":"c"},"order":{"value":null}}},{"mark":"rule","encoding":{"y":{"datum":0}}},{"mark":{"type":"point","filled":true,"fill":"#cc0000","stroke":"#1a1a1a","strokeWidth":1,"size":780,"opacity":1},"encoding":{"x":{"datum":0},"y":{"datum":0}}},{"data":{"name":"l10"},"mark":{"type":"text","fontSize":14},"encoding":{"x":{"field":"x","type":"quantitative"},"y":{"field":"y","type":"quantitative"},"text":{"field":"t"}}},{"mark":{"type":"text","text":"(b)","fontSize":12.5},"encoding":{"x":{"datum":-1.1},"y":{"datum":-4.4}}}]},
  {"width":314,"height":165,"data":{"values":[{}]},"layer":[{"data":{"name":"c10"},"mark":{"type":"line","clip":true},"encoding":{"x":{"field":"x","type":"quantitative","scale":{"domain":[-2,17],"nice":false,"zero":false},"axis":null},"y":{"field":"y","type":"quantitative","scale":{"domain":[-5,5],"nice":false,"zero":false},"axis":{"values":[-5,-2.5,0,2.5,5],"labelExpr":"toString(datum.value)","title":"Y","titleX":-21,"titleY":82.5,"titleAngle":270,"titleBaseline":"middle","titleAlign":"center"}},"detail":{"field":"c"},"order":{"value":null}}},{"mark":"rule","encoding":{"y":{"datum":0}}},{"mark":{"type":"point","filled":true,"fill":"#cc0000","stroke":"#1a1a1a","strokeWidth":1,"size":780,"opacity":1},"encoding":{"x":{"datum":0},"y":{"datum":0}}},{"data":{"name":"l10"},"mark":{"type":"text","fontSize":14},"encoding":{"x":{"field":"x","type":"quantitative"},"y":{"field":"y","type":"quantitative"},"text":{"field":"t"}}},{"mark":{"type":"text","text":"(e)","fontSize":12.5},"encoding":{"x":{"datum":-1.1},"y":{"datum":-4.4}}}]},
  {"width":314,"height":165,"data":{"values":[{}]},"layer":[{"data":{"name":"c10"},"mark":{"type":"line","clip":true},"encoding":{"x":{"field":"x","type":"quantitative","scale":{"domain":[-2,17],"nice":false,"zero":false},"axis":null},"y":{"field":"y","type":"quantitative","scale":{"domain":[-5,5],"nice":false,"zero":false},"axis":{"values":[-5,-2.5,0,2.5,5],"labelExpr":"toString(datum.value)","title":"Y","titleX":-21,"titleY":82.5,"titleAngle":270,"titleBaseline":"middle","titleAlign":"center"}},"detail":{"field":"c"},"order":{"value":null}}},{"mark":"rule","encoding":{"y":{"datum":0}}},{"mark":{"type":"point","filled":true,"fill":"#cc0000","stroke":"#1a1a1a","strokeWidth":1,"size":780,"opacity":1},"encoding":{"x":{"datum":0},"y":{"datum":0}}},{"data":{"name":"l10"},"mark":{"type":"text","fontSize":14},"encoding":{"x":{"field":"x","type":"quantitative"},"y":{"field":"y","type":"quantitative"},"text":{"field":"t"}}},{"mark":{"type":"text","text":"(h)","fontSize":12.5},"encoding":{"x":{"datum":-1.1},"y":{"datum":-4.4}}}]}
 ]},
 {"spacing":21.5,"hconcat":[
  {"width":37,"height":165,"view":{"stroke":null},"data":{"values":[{}]},"mark":{"type":"text","text":"Re = 40","angle":270,"fontSize":21,"dy":4.5,"baseline":"middle","align":"center","color":"#000"},"encoding":{}},
  {"width":314,"height":165,"data":{"values":[{}]},"layer":[{"data":{"name":"c40"},"mark":{"type":"line","clip":true},"encoding":{"x":{"field":"x","type":"quantitative","scale":{"domain":[-2,17],"nice":false,"zero":false},"axis":{"values":[0,5,10,15],"title":"X","titleY":9,"titleBaseline":"top"}},"y":{"field":"y","type":"quantitative","scale":{"domain":[-5,5],"nice":false,"zero":false},"axis":{"values":[-5,-2.5,0,2.5,5],"labelExpr":"toString(datum.value)","title":"Y","titleX":-21,"titleY":82.5,"titleAngle":270,"titleBaseline":"middle","titleAlign":"center"}},"detail":{"field":"c"},"order":{"value":null}}},{"mark":"rule","encoding":{"y":{"datum":0}}},{"mark":{"type":"point","filled":true,"fill":"#cc0000","stroke":"#1a1a1a","strokeWidth":1,"size":780,"opacity":1},"encoding":{"x":{"datum":0},"y":{"datum":0}}},{"data":{"name":"l40"},"mark":{"type":"text","fontSize":14},"encoding":{"x":{"field":"x","type":"quantitative"},"y":{"field":"y","type":"quantitative"},"text":{"field":"t"}}},{"mark":{"type":"text","text":"(c)","fontSize":12.5},"encoding":{"x":{"datum":-1.1},"y":{"datum":-4.4}}},
   {"data":{"values":[{"x":7.56,"y":-2.9,"t":"6.56"}]},"layer":[{"mark":"rule","encoding":{"x":{"field":"x","type":"quantitative"},"y":{"datum":0},"y2":{"datum":-5}}},{"mark":{"type":"text","angle":90,"baseline":"alphabetic","align":"center","dy":-3,"fontSize":13},"encoding":{"x":{"field":"x","type":"quantitative"},"y":{"field":"y","type":"quantitative"},"text":{"field":"t"}}}]}]},
  {"width":314,"height":165,"data":{"values":[{}]},"layer":[{"data":{"name":"c40"},"mark":{"type":"line","clip":true},"encoding":{"x":{"field":"x","type":"quantitative","scale":{"domain":[-2,17],"nice":false,"zero":false},"axis":{"values":[0,5,10,15],"title":"X","titleY":9,"titleBaseline":"top"}},"y":{"field":"y","type":"quantitative","scale":{"domain":[-5,5],"nice":false,"zero":false},"axis":{"values":[-5,-2.5,0,2.5,5],"labelExpr":"toString(datum.value)","title":"Y","titleX":-21,"titleY":82.5,"titleAngle":270,"titleBaseline":"middle","titleAlign":"center"}},"detail":{"field":"c"},"order":{"value":null}}},{"mark":"rule","encoding":{"y":{"datum":0}}},{"mark":{"type":"point","filled":true,"fill":"#cc0000","stroke":"#1a1a1a","strokeWidth":1,"size":780,"opacity":1},"encoding":{"x":{"datum":0},"y":{"datum":0}}},{"data":{"name":"l40"},"mark":{"type":"text","fontSize":14},"encoding":{"x":{"field":"x","type":"quantitative"},"y":{"field":"y","type":"quantitative"},"text":{"field":"t"}}},{"mark":{"type":"text","text":"(f)","fontSize":12.5},"encoding":{"x":{"datum":-1.1},"y":{"datum":-4.4}}},
   {"data":{"values":[{"x":8.21,"y":-2.5,"t":"7.21"}]},"layer":[{"mark":"rule","encoding":{"x":{"field":"x","type":"quantitative"},"y":{"datum":0},"y2":{"datum":-5}}},{"mark":{"type":"text","angle":90,"baseline":"alphabetic","align":"center","dy":-3,"fontSize":13},"encoding":{"x":{"field":"x","type":"quantitative"},"y":{"field":"y","type":"quantitative"},"text":{"field":"t"}}}]}]},
  {"width":314,"height":165,"data":{"values":[{}]},"layer":[{"data":{"name":"c40"},"mark":{"type":"line","clip":true},"encoding":{"x":{"field":"x","type":"quantitative","scale":{"domain":[-2,17],"nice":false,"zero":false},"axis":{"values":[0,5,10,15],"title":"X","titleY":9,"titleBaseline":"top"}},"y":{"field":"y","type":"quantitative","scale":{"domain":[-5,5],"nice":false,"zero":false},"axis":{"values":[-5,-2.5,0,2.5,5],"labelExpr":"toString(datum.value)","title":"Y","titleX":-21,"titleY":82.5,"titleAngle":270,"titleBaseline":"middle","titleAlign":"center"}},"detail":{"field":"c"},"order":{"value":null}}},{"mark":"rule","encoding":{"y":{"datum":0}}},{"mark":{"type":"point","filled":true,"fill":"#cc0000","stroke":"#1a1a1a","strokeWidth":1,"size":780,"opacity":1},"encoding":{"x":{"datum":0},"y":{"datum":0}}},{"data":{"name":"l40"},"mark":{"type":"text","fontSize":14},"encoding":{"x":{"field":"x","type":"quantitative"},"y":{"field":"y","type":"quantitative"},"text":{"field":"t"}}},{"mark":{"type":"text","text":"(i)","fontSize":12.5},"encoding":{"x":{"datum":-1.1},"y":{"datum":-4.4}}},
   {"data":{"values":[{"x":8.01,"y":-2.55,"t":"7.01"}]},"layer":[{"mark":"rule","encoding":{"x":{"field":"x","type":"quantitative"},"y":{"datum":0},"y2":{"datum":-5}}},{"mark":{"type":"text","angle":90,"baseline":"alphabetic","align":"center","dy":-3,"fontSize":13},"encoding":{"x":{"field":"x","type":"quantitative"},"y":{"field":"y","type":"quantitative"},"text":{"field":"t"}}}]}]}
 ]}
]}
]}
],
"config":{
 "view":{"stroke":"#8a8a8a","strokeWidth":1.2},
 "font":"Liberation Sans",
 "axis":{"domain":false,"grid":false,"labelFont":"Liberation Sans","labelFontWeight":"bold","labelColor":"#111","labelFontSize":12.5,"tickColor":"#666","tickSize":3,"labelPadding":1,"titleFont":"Liberation Sans","titleFontWeight":"bold","titleColor":"#111","titleFontSize":13},
 "line":{"color":"#3b3bff","strokeWidth":1.4,"interpolate":"catmull-rom"},
 "rule":{"color":"#e8141c","strokeWidth":1.6},
 "text":{"fontWeight":"bold","color":"#111","font":"Liberation Sans"}
}
}
